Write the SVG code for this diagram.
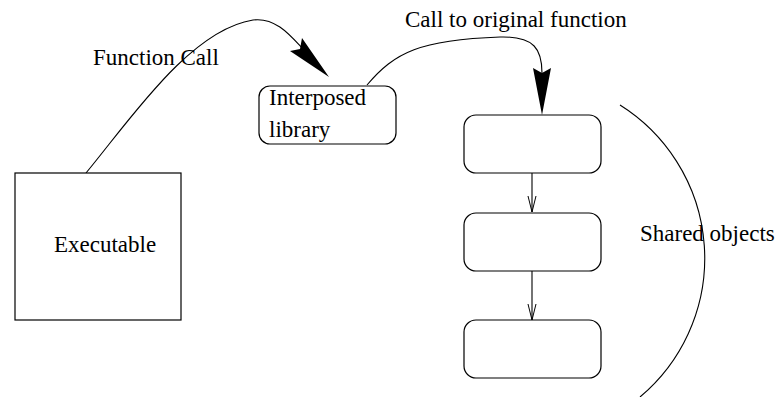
<svg xmlns="http://www.w3.org/2000/svg" width="777" height="397" viewBox="0 0 777 397">
<style>
.box{fill:#fff;stroke:#000;stroke-width:1.2}
.ln{fill:none;stroke:#000;stroke-width:1.1}
.t{font-family:'Liberation Serif','Times New Roman',serif;font-size:23px;fill:#000}
.head{fill:#000;stroke:none}
</style>
<defs>
<marker id="open" viewBox="0 0 16 10" refX="16" refY="5" markerWidth="16" markerHeight="10" markerUnits="userSpaceOnUse" orient="auto">
<path d="M0,1 L16,5 L0,9" fill="none" stroke="#000" stroke-width="1"/>
</marker>
</defs>
<rect width="777" height="397" fill="#fff"/>
<g id="connectors">
<path class="ln" d="M86,173 C130,120 190,30 253,20 C275,17 290,35 302,48"/>
<path class="head" d="M329,77 L302,38 L300,49 L290,51 Z"/>
<path class="ln" d="M367,85 C395,52 420,40 500,37 C535,36 542,50 542,73"/>
<path class="head" d="M542,115 L533,68 L542,73 L551,68 Z"/>
<line class="ln" x1="532" y1="173" x2="532" y2="212" marker-end="url(#open)"/>
<line class="ln" x1="532" y1="271" x2="532" y2="320" marker-end="url(#open)"/>
</g>
<g id="executable">
<rect class="box" x="15" y="173" width="166" height="147"/>
<text class="t" x="54" y="252">Executable</text>
</g>
<g id="interposed">
<rect class="box" x="259" y="86" width="137" height="58" rx="11" ry="11"/>
<text class="t" x="269" y="105">Interposed</text>
<text class="t" x="269" y="137">library</text>
</g>
<g id="so1"><rect class="box" x="464" y="115" width="137" height="58" rx="12" ry="12"/></g>
<g id="so2"><rect class="box" x="464" y="213" width="137" height="58" rx="12" ry="12"/></g>
<g id="so3"><rect class="box" x="464" y="320" width="137" height="58" rx="12" ry="12"/></g>
<g id="shared">
<path class="ln" d="M620,105 A181,181 0 0 1 640,397"/>
<text class="t" x="640" y="241">Shared objects</text>
</g>
<g id="labels">
<text class="t" x="93" y="65">Function Call</text>
<text class="t" x="405" y="27">Call to original function</text>
</g>
</svg>
